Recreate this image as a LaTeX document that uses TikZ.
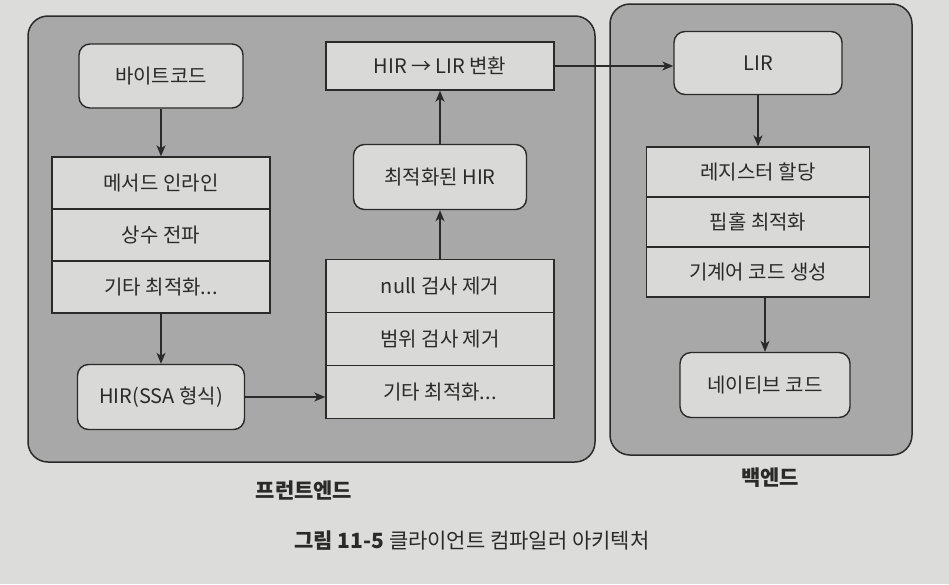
\documentclass[tikz,border=0pt]{standalone}
\usepackage{fontspec}
\setmainfont{Noto Sans CJK KR}
\usetikzlibrary{arrows.meta}
\definecolor{page}{HTML}{DCDCDA}
\definecolor{cont}{HTML}{A8A8A8}
\definecolor{boxc}{HTML}{D9D9D8}
\definecolor{ink}{HTML}{2A2A2A}
\tikzset{
  cont/.style={draw=ink, line width=1.5pt, fill=cont, rounded corners=20pt},
  rbox/.style={draw=ink, line width=1.4pt, fill=boxc, rounded corners=11pt, text=ink, font=\fontsize{20}{24}\selectfont, inner sep=0pt},
  rowbox/.style={draw=ink, line width=1.4pt, fill=boxc, text=ink, font=\fontsize{20}{24}\selectfont, inner sep=0pt},
  conn/.style={draw=ink, line width=1.3pt, -{Stealth[length=11pt,width=9pt,inset=3pt]}},
  lbl/.style={text=ink, font=\fontsize{21}{25}\selectfont\bfseries},
}
\begin{document}
\begin{tikzpicture}[x=1pt,y=-1pt]
\fill[page] (0,0) rectangle (949,584);
\useasboundingbox (0,0) rectangle (949,584);
% containers
\draw[cont] (28,16) rectangle (595,462);
\draw[cont] (610,4) rectangle (912,455);
% frontend
\node[rbox, minimum width=164pt, minimum height=64pt] (byte) at (161,76) {바이트코드};
\node[rowbox, minimum width=218pt, minimum height=52pt] (s1a) at (161,183) {메서드 인라인};
\node[rowbox, minimum width=218pt, minimum height=52pt] (s1b) at (161,235) {상수 전파};
\node[rowbox, minimum width=218pt, minimum height=52pt] (s1c) at (161,287) {기타 최적화...};
\node[rbox, minimum width=167pt, minimum height=65pt] (hir) at (161,397) {HIR(SSA 형식)};
\node[rowbox, minimum width=228pt, minimum height=53pt] (s2a) at (440,286) {null 검사 제거};
\node[rowbox, minimum width=228pt, minimum height=53pt] (s2b) at (440,339) {범위 검사 제거};
\node[rowbox, minimum width=228pt, minimum height=53pt] (s2c) at (440,392) {기타 최적화...};
\node[rbox, minimum width=173pt, minimum height=65pt] (opt) at (440,177) {최적화된 HIR};
\node[rowbox, minimum width=228pt, minimum height=48pt] (conv) at (440,66) {HIR → LIR 변환};
% backend
\node[rbox, minimum width=168pt, minimum height=63pt] (lir) at (758,63) {LIR};
\node[rowbox, minimum width=223pt, minimum height=50pt] (s3a) at (758,172) {레지스터 할당};
\node[rowbox, minimum width=223pt, minimum height=50pt] (s3b) at (758,222) {핍홀 최적화};
\node[rowbox, minimum width=223pt, minimum height=50pt] (s3c) at (758,272) {기계어 코드 생성};
\node[rbox, minimum width=170pt, minimum height=65pt] (nat) at (765,385) {네이티브 코드};
% connectors
\draw[conn] (byte.south) -- (s1a.north);
\draw[conn] (s1c.south) -- (hir.north);
\draw[conn] (hir.east) -- (hir.east -| s2c.west);
\draw[conn] (s2a.north) -- (opt.south);
\draw[conn] (opt.north) -- (conv.south);
\draw[conn] (conv.east) -- (conv.east -| lir.west);
\draw[conn] (lir.south) -- (s3a.north);
\draw[conn] (s3c.south -| nat.north) -- (nat.north);
% labels
\node[lbl] (fe) at (304,490) {프런트엔드};
\node[lbl] (be) at (770,478) {백엔드};
\node[text=ink, font=\fontsize{21}{25}\selectfont] (cap) at (472,541) {\textbf{그림 11-5} 클라이언트 컴파일러 아키텍처};
\end{tikzpicture}
\end{document}
